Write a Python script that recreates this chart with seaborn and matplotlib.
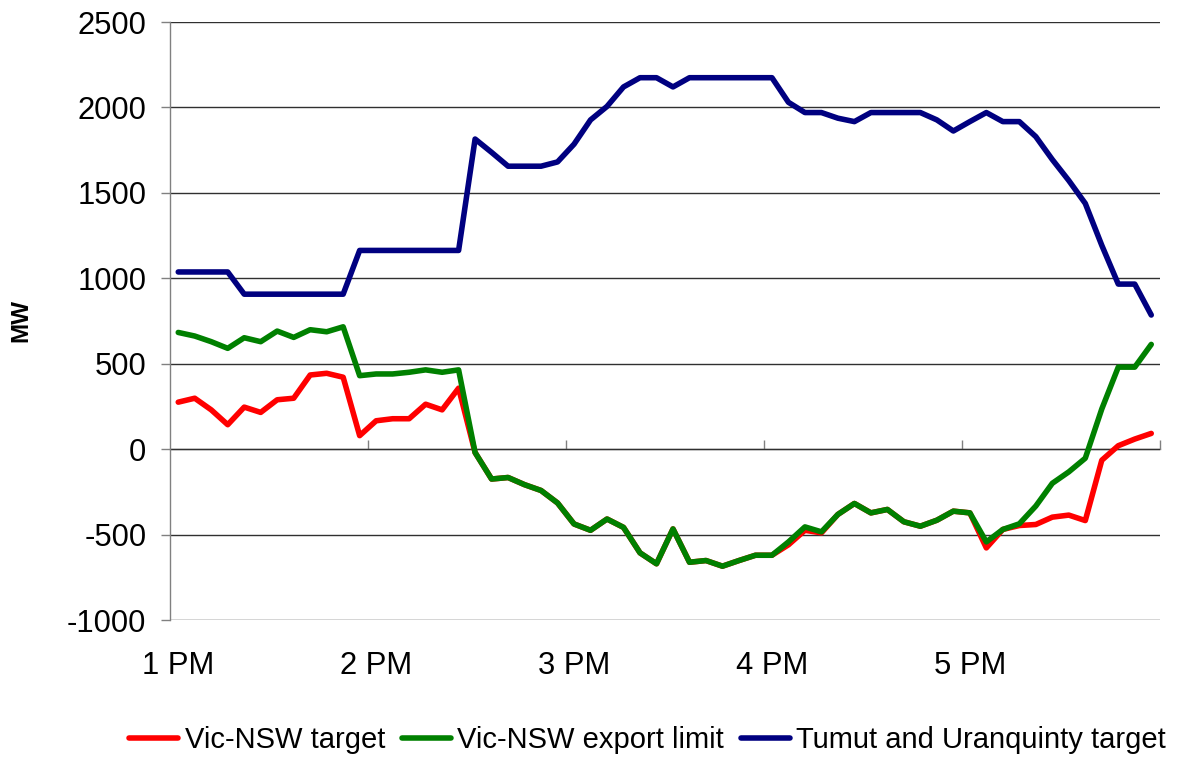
import numpy as np
import pandas as pd
import matplotlib
matplotlib.use("Agg")
import matplotlib.pyplot as plt
import seaborn as sns

# ---------------- data (5-minute intervals from 1 PM) ----------------
vic_nsw_target = [275, 298, 230, 143, 246, 215, 289, 298, 434, 444, 421, 79,
                  166, 178, 178, 263, 230, 357, -20, -175, -166, -208, -242, -315,
                  -438, -475, -409, -458, -607, -671, -467, -662, -652, -685, -652, -621,
                  -621, -560, -475, -490, -382, -318, -373, -353, -425, -451, -416, -363,
                  -373, -578, -470, -447, -441, -398, -386, -418, -65, 20, 59, 92]
vic_nsw_export_limit = [683, 662, 629, 590, 652, 629, 691, 654, 699, 687, 716, 430,
                        440, 440, 450, 464, 450, 464, -20, -175, -166, -208, -242, -315,
                        -438, -475, -409, -458, -607, -671, -467, -662, -652, -685, -652, -621,
                        -621, -543, -455, -484, -382, -318, -373, -353, -425, -451, -416, -363,
                        -373, -543, -470, -437, -333, -200, -133, -53, 235, 480, 480, 613]
tumut_uranquinty_target = [1037, 1037, 1037, 1037, 907, 907, 907, 907, 907, 907, 907, 1163,
                           1163, 1163, 1163, 1163, 1163, 1163, 1815, 1737, 1656, 1656, 1656, 1681,
                           1785, 1927, 2006, 2120, 2174, 2174, 2120, 2174, 2174, 2174, 2174, 2174,
                           2174, 2030, 1970, 1970, 1937, 1917, 1970, 1970, 1970, 1970, 1927, 1862,
                           1917, 1970, 1917, 1917, 1829, 1695, 1572, 1438, 1193, 966, 966, 785]
series_names = ["Vic-NSW target", "Vic-NSW export limit", "Tumut and Uranquinty target"]
series_colors = ["#FF0000", "#008000", "#000080"]
hour_labels = ["1 PM", "2 PM", "3 PM", "4 PM", "5 PM"]
y_ticks = [-1000, -500, 0, 500, 1000, 1500, 2000, 2500]

n = len(vic_nsw_target)
idx = np.arange(n)
df = pd.concat([
    pd.DataFrame({"i": idx, "MW": vals, "series": name})
    for name, vals in zip(series_names,
                          [vic_nsw_target, vic_nsw_export_limit, tumut_uranquinty_target])
], ignore_index=True)

# ---------------- style ----------------
sns.set_style("white")
plt.rcParams["font.family"] = ["Liberation Sans", "DejaVu Sans"]
plt.rcParams["text.color"] = "black"
plt.rcParams["axes.labelcolor"] = "black"
plt.rcParams["xtick.color"] = "black"
plt.rcParams["ytick.color"] = "black"
FS_TICK = 22.3
FS_LEG = 21
W, H = 1182, 758
fig = plt.figure(figsize=(W / 100, H / 100), dpi=100)
ax = fig.add_axes([170 / W, 1 - 620 / H, (1159.5 - 170) / W, (620 - 22) / H])

sns.lineplot(data=df, x="i", y="MW", hue="series", hue_order=series_names,
             palette=dict(zip(series_names, series_colors)), estimator=None,
             sort=False, lw=4.0, legend=False, ax=ax, solid_capstyle="round",
             solid_joinstyle="round")

ax.set_xlim(-0.5, n - 0.5)
ax.set_ylim(y_ticks[0], y_ticks[-1])
ax.set_yticks(y_ticks)
ax.set_yticklabels([str(v) for v in y_ticks], fontsize=FS_TICK)
ax.set_xticks(np.arange(0, n, 12))
ax.set_xticklabels(hour_labels, fontsize=FS_TICK)
ax.set_xlabel("")
ax.set_ylabel("")

# gridlines
ax.yaxis.grid(True, color="#303030", lw=1.0)
ax.xaxis.grid(False)
ax.set_axisbelow(True)

for s in ["top", "right", "bottom"]:
    ax.spines[s].set_visible(False)
ax.spines["left"].set_color("#808080")
ax.spines["left"].set_linewidth(1.0)
ax.tick_params(axis="y", direction="out", length=6.5, width=1.0, color="#808080",
               pad=10.5, labelcolor="black", left=True)
ax.tick_params(axis="x", length=0, pad=22, labelcolor="black", bottom=True)

# category axis crossing at zero with tick marks between categories
zero_pos = (0 - y_ticks[0]) / (y_ticks[-1] - y_ticks[0])
sec = ax.secondary_xaxis(zero_pos)
sec.set_xticks(np.arange(11.5, n, 12))
sec.tick_params(axis="x", direction="in", length=6.5, width=1.0, color="#808080",
                labelbottom=False, labeltop=False)
for s in sec.spines.values():
    s.set_color("#808080")
    s.set_linewidth(1.0)

fig.text(21 / W, 1 - 321 / H, "MW", rotation=90, ha="center", va="center",
         fontsize=17.5, fontweight="bold", color="black")

handles = ax.get_lines()[:3]
fig.legend(handles, series_names, loc="center", bbox_to_anchor=(647.5 / W, 1 - 740 / H),
           ncol=3, frameon=False, fontsize=FS_LEG, handlelength=1.68, handletextpad=0.23,
           columnspacing=0.57)

fig.savefig("out.png", dpi=100)
